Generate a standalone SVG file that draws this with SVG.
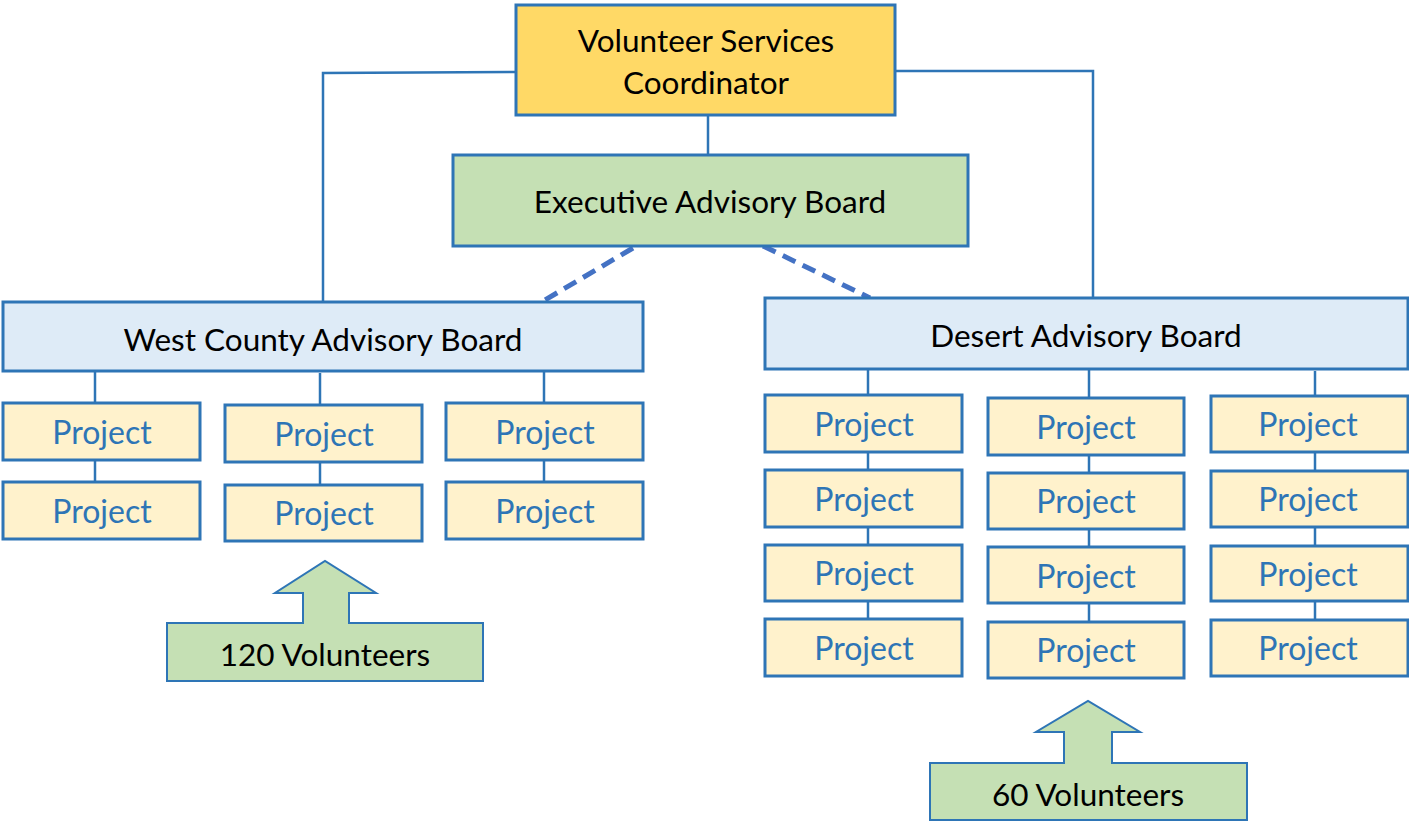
<svg xmlns="http://www.w3.org/2000/svg" width="1409" height="822" viewBox="0 0 1409 822">
<style>
.b{stroke:#2E75B6;stroke-width:3}
.ln{stroke:#2E75B6;stroke-width:2.5;fill:none}
.dash{stroke:#4472C4;stroke-width:5;stroke-dasharray:14,8;fill:none}
.t{font-family:Lato,"Open Sans","Liberation Sans",sans-serif;font-size:31.5px;fill:#000;text-anchor:middle}
.p{font-family:Lato,"Open Sans","Liberation Sans",sans-serif;font-size:32px;fill:#2E75B6;text-anchor:middle}
.pf{fill:#FFF2CC}
.g{fill:#C5E0B4}
.lb{fill:#DEEBF7}
</style>
<g id="connectors">
<polyline class="ln" points="516,72 323,73 323,302"/>
<polyline class="ln" points="895,71 1093,71 1093,298"/>
<line class="ln" x1="708" y1="115" x2="708" y2="155"/>
<line class="dash" x1="633" y1="248" x2="545" y2="300"/>
<line class="dash" x1="763" y1="246" x2="870" y2="298"/>
<line class="ln" x1="95" y1="371" x2="95" y2="482"/>
<line class="ln" x1="320" y1="373" x2="320" y2="485"/>
<line class="ln" x1="544" y1="371" x2="544" y2="482"/>
<line class="ln" x1="868" y1="369" x2="868" y2="619"/>
<line class="ln" x1="1089" y1="369" x2="1089" y2="622"/>
<line class="ln" x1="1315" y1="371" x2="1315" y2="620"/>
</g>
<g id="coordinator"><rect class="b" x="516" y="5" width="379" height="110" fill="#FFD966"/><text class="t" x="706" y="52">Volunteer Services</text><text class="t" x="706" y="94">Coordinator</text></g>
<g id="executive"><rect class="b g" x="453" y="155" width="515" height="91"/><text class="t" x="710" y="213">Executive Advisory Board</text></g>
<g id="west"><rect class="b lb" x="3" y="302" width="640" height="69"/><text class="t" x="323" y="351">West County Advisory Board</text></g>
<g id="desert"><rect class="b lb" x="765" y="298" width="643" height="71"/><text class="t" x="1086" y="347">Desert Advisory Board</text></g>
<g id="w11"><rect class="b pf" x="3" y="403" width="197" height="57"/><text class="p" x="102" y="444">Project</text></g>
<g id="w12"><rect class="b pf" x="3" y="482" width="197" height="57"/><text class="p" x="102" y="523">Project</text></g>
<g id="w21"><rect class="b pf" x="225" y="405" width="197" height="57"/><text class="p" x="324" y="446">Project</text></g>
<g id="w22"><rect class="b pf" x="225" y="485" width="197" height="56"/><text class="p" x="324" y="525">Project</text></g>
<g id="w31"><rect class="b pf" x="446" y="403" width="197" height="57"/><text class="p" x="545" y="444">Project</text></g>
<g id="w32"><rect class="b pf" x="446" y="482" width="197" height="57"/><text class="p" x="545" y="523">Project</text></g>
<g id="d11"><rect class="b pf" x="765" y="395" width="197" height="57"/><text class="p" x="864" y="436">Project</text></g>
<g id="d12"><rect class="b pf" x="765" y="470" width="197" height="57"/><text class="p" x="864" y="511">Project</text></g>
<g id="d13"><rect class="b pf" x="765" y="545" width="197" height="56"/><text class="p" x="864" y="585">Project</text></g>
<g id="d14"><rect class="b pf" x="765" y="619" width="197" height="57"/><text class="p" x="864" y="660">Project</text></g>
<g id="d21"><rect class="b pf" x="988" y="398" width="196" height="57"/><text class="p" x="1086" y="439">Project</text></g>
<g id="d22"><rect class="b pf" x="988" y="473" width="196" height="56"/><text class="p" x="1086" y="513">Project</text></g>
<g id="d23"><rect class="b pf" x="988" y="547" width="196" height="56"/><text class="p" x="1086" y="588">Project</text></g>
<g id="d24"><rect class="b pf" x="988" y="622" width="196" height="56"/><text class="p" x="1086" y="662">Project</text></g>
<g id="d31"><rect class="b pf" x="1211" y="396" width="197" height="56"/><text class="p" x="1308" y="436">Project</text></g>
<g id="d32"><rect class="b pf" x="1211" y="471" width="197" height="56"/><text class="p" x="1308" y="511">Project</text></g>
<g id="d33"><rect class="b pf" x="1211" y="546" width="197" height="55"/><text class="p" x="1308" y="586">Project</text></g>
<g id="d34"><rect class="b pf" x="1211" y="620" width="197" height="56"/><text class="p" x="1308" y="660">Project</text></g>
<g id="vol120"><path class="g" d="M167,623 H303 V593 H275 L325,561 L376,593 H349 V623 H483 V681 H167 Z" stroke="#2E75B6" stroke-width="2"/><text class="t" x="325" y="666">120 Volunteers</text></g>
<g id="vol60"><path class="g" d="M930,763 H1064 V732 H1036 L1088,701 L1140,732 H1112 V763 H1247 V820 H930 Z" stroke="#2E75B6" stroke-width="2"/><text class="t" x="1088" y="806">60 Volunteers</text></g>
</svg>
